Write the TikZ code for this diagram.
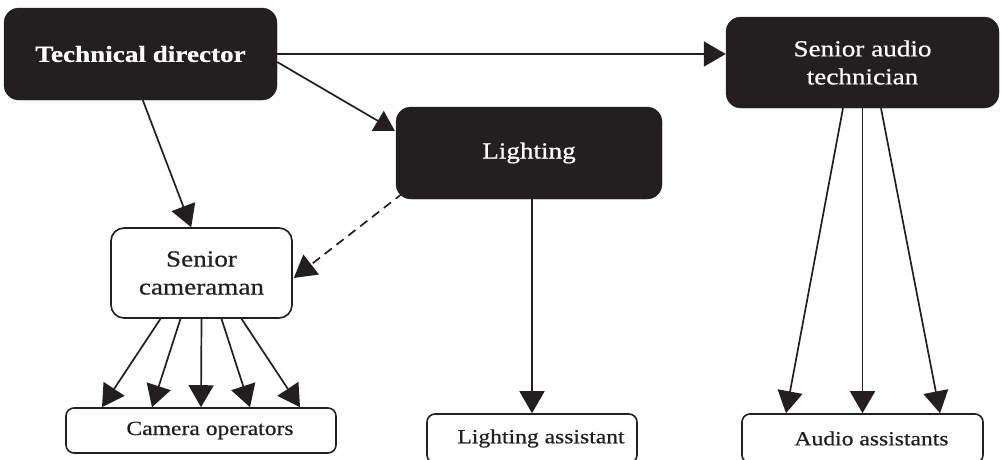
\documentclass[tikz,border=0pt]{standalone}
\usepackage{fontspec}
\setmainfont{Liberation Serif}[FakeStretch=1.18, FakeBold=0.6]
\usetikzlibrary{arrows.meta,calc}
\definecolor{ink}{HTML}{231F20}
\tikzset{
  darkbox/.style={draw=ink, fill=ink, text=white, rounded corners=15pt,
    inner sep=0pt, align=center, font=\fontsize{23}{28}\selectfont},
  lightbox/.style={draw=ink, line width=1.6pt, fill=white, text=ink, rounded corners=13pt,
    inner sep=0pt, align=center, font=\fontsize{23}{28}\selectfont},
  staffbox/.style={draw=ink, line width=1.6pt, fill=white, text=ink, rounded corners=8pt,
    inner sep=0pt, font=\fontsize{20}{24}\selectfont},
  link/.style={draw=ink, line width=1.7pt, -{Triangle[length=22pt,width=25pt]}},
  plainlink/.style={draw=ink, line width=1.7pt},
}
\begin{document}
\begin{tikzpicture}[x=1pt, y=-1pt]
\useasboundingbox (0,0) rectangle (1001,459);
\clip (0,0) rectangle (1001,459);

% management boxes
\node[darkbox, minimum width=273pt, minimum height=92pt] (td) at (140.5,54)
  {\bfseries Technical director};
\node[darkbox, minimum width=266pt, minimum height=92pt] (lt) at (529,153) {Lighting};
\node[darkbox, minimum width=273pt, minimum height=91pt] (sat) at (862.5,62.5)
  {Senior audio\\technician};
\node[lightbox, minimum width=181pt, minimum height=90pt] (sc) at (201.5,273)
  {Senior\\cameraman};

% crew boxes
\node[staffbox, minimum width=270pt, minimum height=45pt] (co) at (201,430.5)
  {\hspace*{18pt}Camera operators};
\node[staffbox, minimum width=210pt, minimum height=49pt] (la) at (532,438.5)
  {\hspace*{18pt}Lighting assistant};
\node[staffbox, minimum width=241pt, minimum height=49pt] (aa) at (862.5,438.5)
  {\hspace*{18pt}Audio assistants};

% director links
\draw[link] (td.east) -- (td.east -| sat.west);
\draw[plainlink] ($(td.east)+(0,8)$) -- ($(lt.north west)+(-18,14)$);
\fill[ink] ($(lt.north west)+(-12,4)$) -- ($(lt.north west)+(-24,24)$)
  -- ($(lt.north west)+(-1,24)$) -- cycle;
\draw[link] ($(td.south west)+(139,0)$) -- ($(sc.north west)+(81,0)$);

% lighting links
\draw[link, dash pattern=on 9pt off 6pt] ($(lt.south west)+(7,-6)$) -- ($(sc.east)+(1,5)$);
\draw[link] ($(lt.south)+(3,0)$) -- (la.north);

% audio links
\foreach \s/\e in {-19.5/-76.5, 0/0, 18.5/77.5}
  \draw[link] ($(sat.south)+(\s,0)$) -- ($(aa.north)+(\e,0)$);

% camera links
\foreach \s/\e in {-41/-99, -21/-49, 0/0, 20/49, 40/99}
  \draw[link] ($(sc.south)+(\s,0)$) -- ($(co.north)+(\e,0)$);
\end{tikzpicture}
\end{document}
